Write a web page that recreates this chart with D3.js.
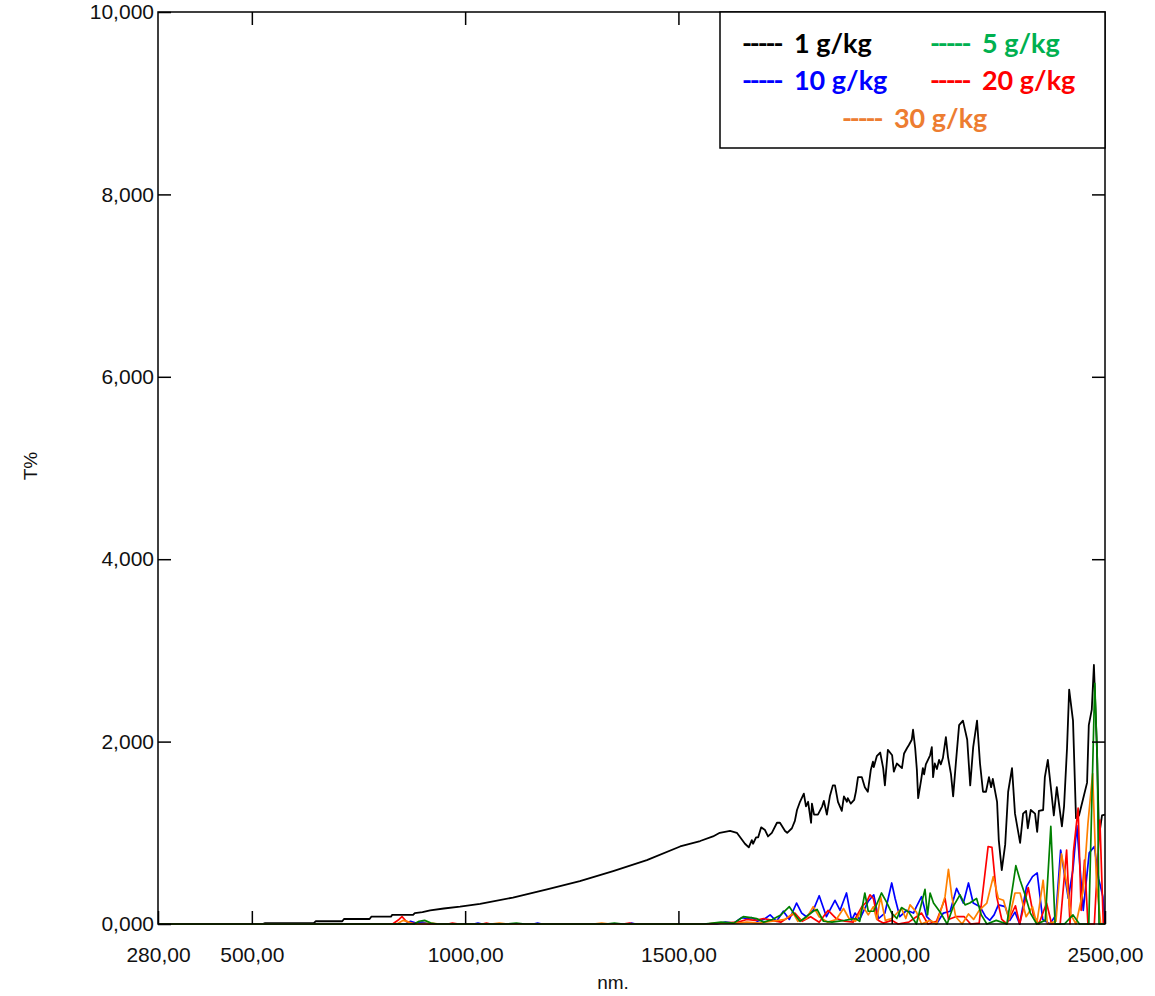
<!DOCTYPE html>
<html>
<head>
<meta charset="utf-8">
<script src="https://cdn.jsdelivr.net/npm/d3@7"></script>
<style>
  html, body { margin: 0; padding: 0; background: #fff; }
  svg { display: block; }
</style>
</head>
<body>
<svg id="chart" width="1155" height="996"></svg>
<script>
// ---------------- DATA ----------------
const xTickValues = [280, 500, 1000, 1500, 2000, 2500];
const yTickValues = [0, 2, 4, 6, 8, 10];
const xTitle = "nm.";
const yTitle = "T%";
const legendLabels = ["1 g/kg", "5 g/kg", "10 g/kg", "20 g/kg", "30 g/kg"];

const wl_black = [280,525,531,645,650,712,716,776,780,826,829,878,882,900,918,950,988,1035,1112,1192,1269,1347,1426,1504,1551,1581,1597,1621,1637,1656,1665,1672,1675,1682,1687,1694,1703,1710,1719,1731,1738,1750,1755,1766,1773,1778,1785,1794,1799,1804,1811,1813,1818,1827,1837,1841,1848,1855,1862,1867,1874,1883,1888,1895,1897,1904,1912,1916,1921,1930,1937,1944,1951,1956,1958,1965,1973,1980,1984,1991,2001,2005,2012,2024,2029,2036,2040,2047,2050,2055,2059,2062,2069,2073,2076,2080,2090,2094,2097,2101,2106,2111,2115,2120,2127,2132,2139,2144,2151,2158,2167,2177,2184,2191,2200,2207,2214,2221,2228,2233,2237,2247,2251,2258,2266,2273,2282,2289,2301,2308,2315,2319,2326,2336,2341,2345,2355,2359,2366,2373,2380,2387,2399,2404,2411,2416,2425,2432,2439,2448,2458,2462,2469,2474,2481,2486,2493,2500];
const t_black  = [0,0,0.01,0.01,0.03,0.03,0.055,0.055,0.08,0.08,0.10,0.10,0.12,0.13,0.15,0.17,0.19,0.22,0.29,0.38,0.47,0.58,0.70,0.85,0.91,0.96,1.00,1.02,1.00,0.88,0.84,0.92,0.88,0.95,0.95,1.06,1.03,0.96,1.00,1.11,1.11,1.02,1.00,1.05,1.13,1.25,1.34,1.43,1.29,1.34,1.11,1.32,1.20,1.20,1.29,1.35,1.20,1.40,1.52,1.52,1.34,1.24,1.40,1.34,1.38,1.32,1.36,1.45,1.61,1.61,1.50,1.45,1.69,1.78,1.72,1.84,1.88,1.71,1.52,1.91,1.85,1.67,1.76,1.71,1.87,1.93,1.96,2.02,2.13,1.93,1.69,1.38,1.58,1.71,1.64,1.75,1.85,1.94,1.61,1.76,1.70,1.80,1.75,1.82,2.05,1.83,1.64,1.40,1.80,2.18,2.23,2.02,1.52,1.94,2.23,1.76,1.45,1.45,1.61,1.50,1.59,1.34,0.92,0.59,0.87,1.45,1.71,1.21,0.89,1.21,1.24,1.05,1.25,1.21,1.01,1.24,1.25,1.61,1.80,1.50,1.19,1.50,1.07,1.29,1.93,2.57,2.23,1.16,1.19,1.36,1.55,2.18,2.35,2.84,1.93,0.96,1.19,1.20];

const wl_blue = [280,860,872,885,900,915,1020,1030,1040,1160,1170,1180,1380,1390,1400,1590,1610,1630,1648,1660,1672,1685,1700,1715,1730,1746,1760,1777,1789,1800,1816,1830,1847,1867,1879,1894,1906,1914,1925,1945,1958,1969,1984,2000,2008,2019,2035,2051,2058,2070,2082,2095,2105,2121,2137,2152,2168,2180,2191,2207,2220,2230,2240,2250,2266,2277,2289,2300,2316,2330,2341,2354,2371,2385,2396,2414,2425,2434,2449,2463,2475,2485,2495,2500];
const t_blue  = [0,0,0.03,0.01,0.02,0,0,0.01,0,0,0.01,0,0,0.01,0,0,0.02,0.01,0.07,0.06,0.07,0.03,0.05,0.10,0.03,0.14,0.05,0.23,0.12,0.08,0.15,0.31,0.08,0.26,0.15,0.34,0.04,0.12,0.05,0.25,0.32,0.06,0.12,0.45,0.28,0.08,0.15,0.12,0.19,0.30,0.08,0.02,0,0.12,0.14,0.39,0.23,0.45,0.23,0.19,0.08,0.04,0.10,0.21,0.19,0.04,0.13,0,0.41,0.52,0.56,0.05,0,0.10,0.81,0.28,0.60,1.08,0.15,0.78,0.85,0.50,0.30,0];

const wl_red = [280,830,845,852,862,875,890,960,970,985,1040,1050,1060,1370,1385,1395,1560,1600,1640,1660,1680,1700,1720,1740,1773,1790,1810,1830,1851,1870,1890,1910,1930,1941,1949,1957,1968,1980,2000,2015,2040,2058,2070,2085,2105,2125,2133,2150,2170,2185,2205,2226,2235,2246,2258,2270,2290,2300,2320,2332,2345,2363,2375,2395,2410,2418,2426,2437,2444,2452,2460,2475,2488,2496,2500];
const t_red  = [0,0,0.05,0.08,0.03,0.01,0,0,0.01,0,0,0.01,0,0,0.01,0,0,0.01,0.02,0.05,0.04,0.06,0.04,0.02,0.12,0.03,0.08,0.02,0.15,0.06,0.03,0.02,0.19,0.24,0.32,0.28,0.04,0.01,0.04,0,0.02,0.08,0.12,0,0.03,0.28,0.05,0.08,0.08,0,0.01,0.85,0.84,0.30,0.05,0,0.20,0,0.40,0.10,0,0.23,0,0,0.81,0,0.79,1.27,0.15,0.70,0,0,1.14,0,0];

const wl_orange = [280,840,855,868,880,920,940,1060,1080,1100,1300,1320,1340,1560,1600,1640,1660,1690,1720,1750,1769,1780,1800,1816,1830,1850,1870,1887,1900,1915,1933,1945,1957,1965,1974,1985,2000,2023,2033,2043,2058,2070,2090,2105,2125,2133,2141,2150,2165,2180,2192,2205,2223,2238,2250,2262,2275,2289,2301,2315,2330,2340,2355,2365,2385,2398,2410,2420,2432,2449,2460,2471,2480,2490,2500];
const t_orange  = [0,0,0.04,0.02,0,0.01,0,0,0.01,0,0,0.01,0,0,0.01,0.01,0.02,0.01,0.03,0.05,0.12,0.03,0.06,0.19,0.08,0.02,0.05,0.17,0.06,0.03,0.19,0.10,0.19,0.05,0.30,0.04,0.06,0.17,0.06,0.21,0.13,0,0.04,0,0.30,0.60,0.30,0.08,0,0.11,0.05,0.15,0.23,0.52,0.28,0.26,0.05,0.34,0.34,0.08,0.19,0,0.48,0,0.03,0.77,0.45,0.10,0,0.37,1.10,1.65,0.45,0,0];

const wl_green = [280,880,892,905,920,935,1100,1120,1140,1330,1350,1370,1560,1600,1630,1652,1670,1683,1700,1720,1740,1760,1770,1785,1800,1816,1825,1840,1860,1890,1915,1925,1937,1945,1958,1976,1988,2000,2012,2023,2040,2058,2078,2084,2090,2098,2115,2130,2144,2160,2172,2183,2199,2210,2223,2245,2270,2285,2291,2301,2312,2325,2340,2360,2373,2383,2405,2425,2440,2462,2476,2482,2486,2500];
const t_green  = [0,0,0.03,0.04,0.01,0,0,0.01,0,0,0.01,0,0,0.02,0.01,0.08,0.07,0.06,0.02,0.05,0.10,0.19,0.12,0.03,0.08,0.14,0.16,0.03,0.02,0.04,0.06,0.03,0.34,0.14,0.14,0.34,0.24,0.12,0.06,0.18,0.13,0,0.38,0.10,0.34,0.23,0.12,0,0.19,0.32,0.21,0.23,0.28,0.10,0,0.04,0,0.45,0.64,0.48,0.33,0.12,0,0.04,1.07,0,0,0.10,0,0,2.64,1.80,0,0];

// ---------------- CHART ----------------
const svg = d3.select("#chart");
const L = 158, R = 1105, T = 12, B = 924;
const x = d3.scaleLinear().domain([280, 2500]).range([L, R]);
const y = d3.scaleLinear().domain([0, 10]).range([B, T]);

const loc = d3.formatLocale({decimal: ",", thousands: ".", grouping: [3], currency: ["", ""]});
const fx = loc.format(".2f"), fy = loc.format(".3f");
const tickFont = "'Liberation Sans', Arial, sans-serif";

function styleAxis(g) {
  g.select(".domain").remove();
  g.selectAll(".tick line").attr("stroke", "#000").attr("stroke-width", 1.5);
  g.selectAll("text").attr("font-family", tickFont).attr("font-size", 21).attr("fill", "#111");
}

// series lines
const series = [
  {wl: wl_black, t: t_black, color: "#000000", w: 1.8},
  {wl: wl_blue, t: t_blue, color: "#0000ff", w: 1.7},
  {wl: wl_red, t: t_red, color: "#ff0000", w: 1.7},
  {wl: wl_orange, t: t_orange, color: "#ff8000", w: 1.7},
  {wl: wl_green, t: t_green, color: "#008000", w: 1.7}
];
const line = d3.line().x(d => x(d[0])).y(d => y(d[1]));
const plot = svg.append("g");
series.forEach(s => {
  const pts = s.wl.map((w, i) => [w, s.t[i]]);
  plot.append("path").attr("d", line(pts)).attr("fill", "none")
    .attr("stroke", s.color).attr("stroke-width", s.w).attr("stroke-linejoin", "round");
});

// axes (inward ticks)
svg.append("g").attr("transform", `translate(0,${B})`)
  .call(d3.axisBottom(x).tickValues(xTickValues).tickFormat(fx).tickSize(-13).tickPadding(23))
  .call(styleAxis);
svg.append("g").attr("transform", `translate(0,${T})`)
  .call(d3.axisTop(x).tickValues(xTickValues.slice(1, -1)).tickFormat("").tickSize(-13))
  .call(styleAxis);
svg.append("g").attr("transform", `translate(${L},0)`)
  .call(d3.axisLeft(y).tickValues(yTickValues).tickFormat(fy).tickSize(-13).tickPadding(4))
  .call(styleAxis);
svg.append("g").attr("transform", `translate(${R},0)`)
  .call(d3.axisRight(y).tickValues(yTickValues.slice(1, -1)).tickFormat("").tickSize(-13))
  .call(styleAxis);

// frame
svg.append("rect").attr("x", L).attr("y", T).attr("width", R - L).attr("height", B - T)
  .attr("fill", "none").attr("stroke", "#000").attr("stroke-width", 1.5);

// titles
svg.append("text").attr("x", 613).attr("y", 989).attr("text-anchor", "middle")
  .attr("font-family", tickFont).attr("font-size", 19).attr("fill", "#111").text(xTitle);
svg.append("text").attr("transform", "translate(37,466) rotate(-90)").attr("text-anchor", "middle")
  .attr("font-family", tickFont).attr("font-size", 19).attr("fill", "#111").text(yTitle);

// legend
const lg = svg.append("g");
lg.append("rect").attr("x", 720).attr("y", T).attr("width", R - 720).attr("height", 136)
  .attr("fill", "#fff").attr("stroke", "#000").attr("stroke-width", 1.5);
const legendItems = [
  {label: legendLabels[0], color: "#000000", x: 742, y: 53},
  {label: legendLabels[1], color: "#00b050", x: 930, y: 53},
  {label: legendLabels[2], color: "#0000ff", x: 742, y: 90},
  {label: legendLabels[3], color: "#ff0000", x: 930, y: 90},
  {label: legendLabels[4], color: "#ed7d31", x: 842, y: 128}
];
legendItems.forEach(it => {
  const t = lg.append("text").attr("x", it.x).attr("y", it.y)
    .attr("font-family", "Lato, 'Open Sans', sans-serif").attr("font-weight", "bold")
    .attr("font-size", 27).attr("fill", it.color);
  t.append("tspan").attr("letter-spacing", -2.2).text("-----");
  t.append("tspan").attr("dx", 6).text("\u00a0" + it.label);
});
</script>
</body>
</html>
